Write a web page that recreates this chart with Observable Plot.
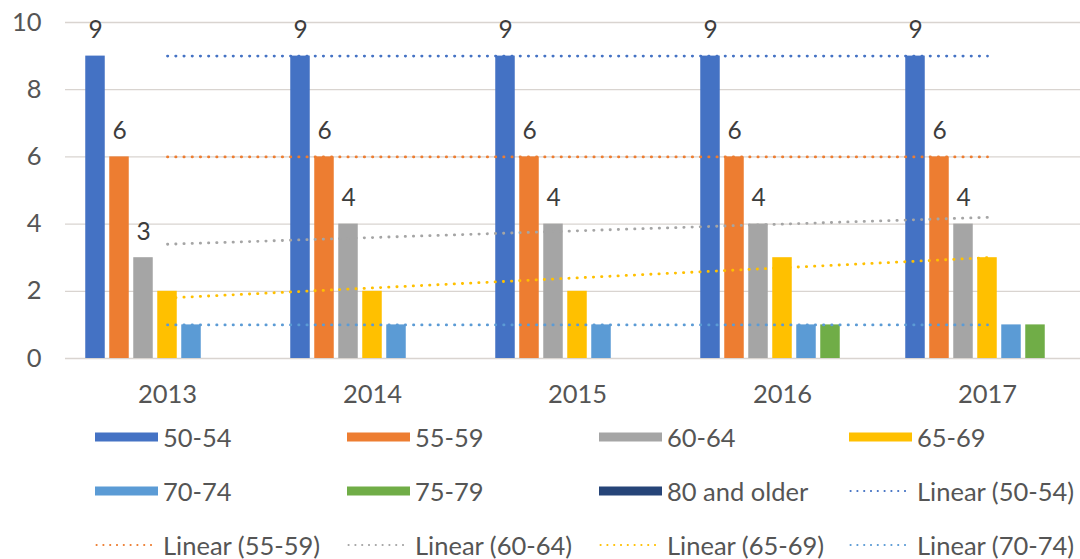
<!DOCTYPE html>
<html><head><meta charset="utf-8">
<script src="https://cdn.jsdelivr.net/npm/d3@7"></script>
<script src="https://cdn.jsdelivr.net/npm/@observablehq/plot@0.6"></script>
<style>
body{margin:0;background:#fff;font-family:Lato, "Open Sans", sans-serif;}
#legend{position:relative;width:1080px;height:149px;}
.item{position:absolute;display:flex;align-items:center;font-size:25.5px;color:#555;height:54px;white-space:nowrap;}
.item svg{margin-right:5px;}
</style></head><body><div id="chart"></div><div id="legend"></div>
<script>
const years = ["2013","2014","2015","2016","2017"];
const series = ["50-54","55-59","60-64","65-69","70-74","75-79","80 and older"];
const colors = ["#4472C4","#ED7D31","#A5A5A5","#FFC000","#5B9BD5","#70AD47","#264478"];
const v5054 = [9,9,9,9,9];
const v5559 = [6,6,6,6,6];
const v6064 = [3,4,4,4,4];
const v6569 = [2,2,2,3,3];
const v7074 = [1,1,1,1,1];
const v7579 = [0,0,0,1,1];
const v80up = [0,0,0,0,0];
const values = [v5054, v5559, v6064, v6569, v7074, v7579, v80up];
const labeledSeries = ["50-54","55-59","60-64"];
const trendSeries = ["50-54","55-59","60-64","65-69","70-74"];
const yTicks = [0,2,4,6,8,10];
const legendItems = [
  ["50-54","bar"],["55-59","bar"],["60-64","bar"],["65-69","bar"],
  ["70-74","bar"],["75-79","bar"],["80 and older","bar"],["Linear (50-54)","line","50-54"],
  ["Linear (55-59)","line","55-59"],["Linear (60-64)","line","60-64"],["Linear (65-69)","line","65-69"],["Linear (70-74)","line","70-74"]
];

const slot = 24/205, barW = 19.5/205, half = (6*slot + barW)/2;
const data = years.flatMap((yr, i) => series.map((s, k) => ({i, s, k, v: values[k][i]})));
const bars = data.filter(d => d.v > 0);
const labels = data.filter(d => labeledSeries.includes(d.s));

// linear regression (trendlines) computed from the data
const trend = trendSeries.flatMap(s => {
  const ys = values[series.indexOf(s)];
  const n = ys.length, xs = ys.map((_, i) => i);
  const mx = d3.mean(xs), my = d3.mean(ys);
  const b = d3.sum(xs, (x, j) => (x - mx) * (ys[j] - my)) / d3.sum(xs, x => (x - mx) ** 2);
  const a = my - b * mx;
  return [0, n - 1].map(x => ({s, x, y: a + b * x}));
});

const chart = Plot.plot({
  width: 1080, height: 410,
  marginLeft: 65, marginRight: 0, marginTop: 22, marginBottom: 52,
  style: {fontSize: "25.5px", fontFamily: "Lato, 'Open Sans', sans-serif", color: "#555", background: "#fff"},
  x: {type: "linear", domain: [-0.5, 4.5], range: [64.5, 1089.5]},
  y: {domain: [0, 10]},
  color: {domain: series, range: colors},
  marks: [
    Plot.ruleY(yTicks, {stroke: "#d9d4d0", strokeWidth: 1.3}),
    Plot.rectY(bars, {x1: d => d.i - half + d.k * slot, x2: d => d.i - half + d.k * slot + barW, y1: 0, y2: "v", fill: "s"}),
    Plot.line(trend, {x: "x", y: "y", z: "s", stroke: "s", strokeWidth: 2.8, strokeLinecap: "round", strokeDasharray: "0.3 7.9"}),
    Plot.text(labels, {x: d => d.i - half + d.k * slot + barW / 2, y: "v", text: d => String(d.v), dy: -26, fill: "#3d3d3d", fontSize: 24.5}),
    Plot.axisY({ticks: yTicks, tickSize: 0, tickPadding: 24, fontSize: 25.5}),
    Plot.axisX({ticks: [0,1,2,3,4], tickFormat: i => years[i], tickSize: 0, tickPadding: 26, fontSize: 25.5, label: null})
  ]
});
document.getElementById("chart").appendChild(chart);

const colorOf = s => colors[series.indexOf(s)];
const leg = document.getElementById("legend");
const colX = [95, 347, 599, 849];
legendItems.forEach((it, idx) => {
  const row = Math.floor(idx / 4), col = idx % 4;
  const div = document.createElement("div");
  div.className = "item";
  div.style.left = colX[col] + "px";
  div.style.top = (row * 54) + "px";
  let sw;
  if (it[1] === "bar") {
    sw = `<svg width="63" height="12"><rect x="0" y="1.5" width="63" height="9" fill="${colorOf(it[0])}"/></svg>`;
  } else {
    sw = `<svg width="63" height="12"><line x1="1.5" x2="62" y1="6" y2="6" stroke="${colorOf(it[2])}" stroke-width="2" stroke-linecap="round" stroke-dasharray="0.2 6.6"/></svg>`;
  }
  div.innerHTML = sw + `<span>${it[0]}</span>`;
  leg.appendChild(div);
});
</script>
</body></html>
